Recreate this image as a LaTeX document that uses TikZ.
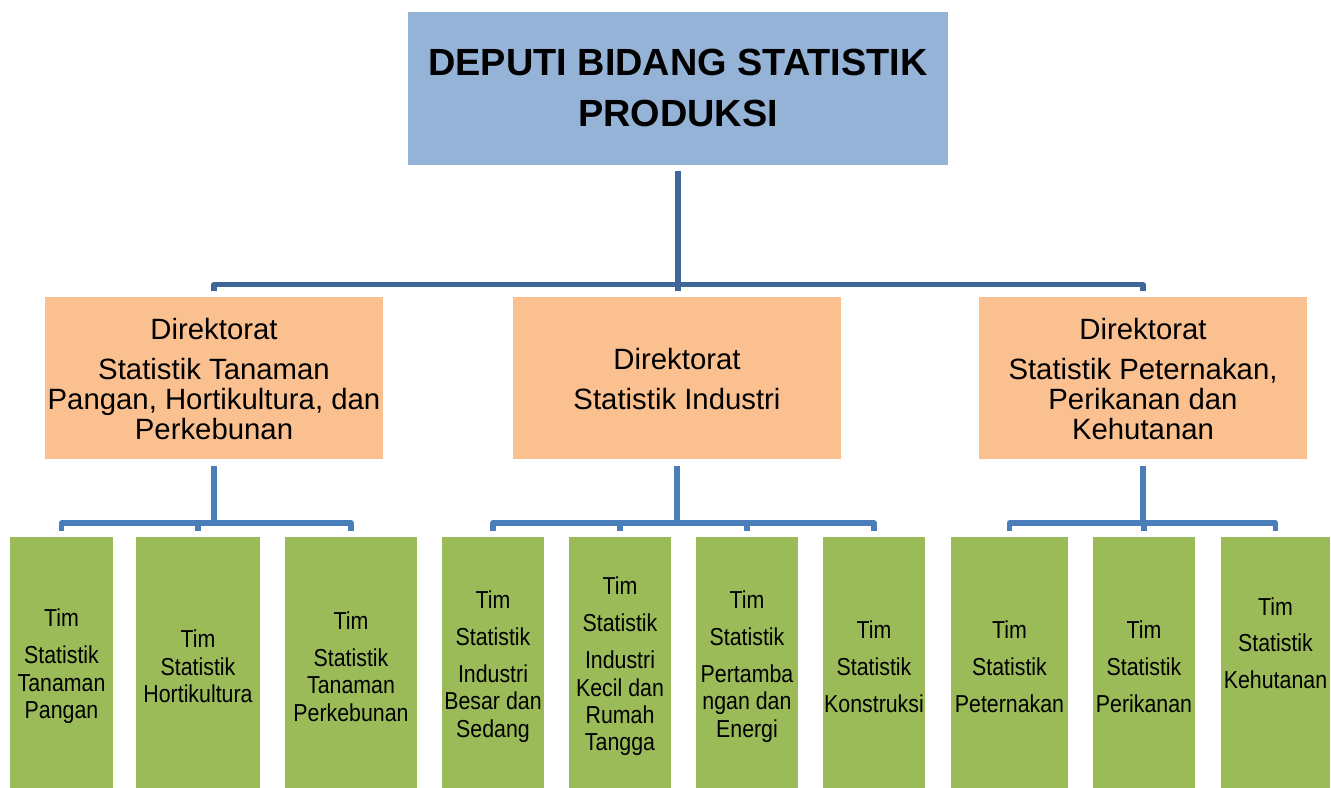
\documentclass[tikz,border=0pt]{standalone}
\usepackage{fontspec}
\setmainfont{Liberation Sans}
\newfontfamily\narrowfont[FakeStretch=0.87]{Liberation Sans}
\usetikzlibrary{fit}
\definecolor{topblue}{HTML}{95B3D7}
\definecolor{dirorange}{HTML}{FAC090}
\definecolor{timgreen}{HTML}{9BBB59}
\definecolor{conA}{HTML}{3E6797}
\definecolor{conB}{HTML}{4A7EBB}
\begin{document}
\begin{tikzpicture}[x=0.75pt,y=-0.75pt,
  box/.style={inner sep=0pt, outer sep=0pt},
  topbox/.style={box, fill=topblue},
  dirbox/.style={box, fill=dirorange},
  timbox/.style={box, fill=timgreen},
  toptext/.style={inner sep=0pt, align=center, yshift=0.75pt, font=\fontsize{28.4pt}{38.25pt}\selectfont\bfseries},
  dirtext/.style={inner sep=0pt, align=center, yshift=-0.4pt, font=\fontsize{22pt}{22.5pt}\selectfont},
  timtext/.style={inner sep=0pt, align=center, yshift=-3pt, font=\narrowfont\fontsize{18.4pt}{20.6pt}\selectfont},
  connA/.style={draw=conA, line width=4pt, line join=round},
  connB/.style={draw=conB, line width=4pt, line join=round},
]
\useasboundingbox (0,0) rectangle (1331,788);

% top
\node[topbox, fit={(408,12) (948,165)}] (top) {};
\node[toptext] (toptxt) at (top.center) {DEPUTI BIDANG STATISTIK\\PRODUKSI};

% directorates
\node[dirbox, fit={(45,297) (383,459)}] (o1) {};
\node[dirbox, fit={(513,297) (841,459)}] (o2) {};
\node[dirbox, fit={(979,297) (1307,459)}] (o3) {};
\node[dirtext] (d1) at (o1.center) {Direktorat\\[7.5pt]Statistik Tanaman\\Pangan, Hortikultura, dan\\Perkebunan};
\node[dirtext] (d2) at (o2.center) {Direktorat\\[7.5pt]Statistik Industri};
\node[dirtext] (d3) at (o3.center) {Direktorat\\[7.5pt]Statistik Peternakan,\\Perikanan dan\\Kehutanan};

% teams
\node[timbox, fit={(10,537) (113,788)}] (g1) {};
\node[timbox, fit={(136,537) (260,788)}] (g2) {};
\node[timbox, fit={(285,537) (417,788)}] (g3) {};
\node[timbox, fit={(442,537) (544,788)}] (g4) {};
\node[timbox, fit={(569,537) (671,788)}] (g5) {};
\node[timbox, fit={(696,537) (798,788)}] (g6) {};
\node[timbox, fit={(823,537) (925,788)}] (g7) {};
\node[timbox, fit={(951,537) (1068,788)}] (g8) {};
\node[timbox, fit={(1093,537) (1195,788)}] (g9) {};
\node[timbox, fit={(1221,537) (1330,788)}] (g10) {};

\node[timtext] (t1) at (g1.center) {Tim\\[7.1pt]Statistik\\Tanaman\\Pangan};
\node[timtext] (t2) at (g2.center) {Tim\\Statistik\\Hortikultura};
\node[timtext] (t3) at (g3.center) {Tim\\[7.1pt]Statistik\\Tanaman\\Perkebunan};
\node[timtext] (t4) at (g4.center) {Tim\\[7.1pt]Statistik\\[7.1pt]Industri\\Besar dan\\Sedang};
\node[timtext] (t5) at (g5.center) {Tim\\[7.1pt]Statistik\\[7.1pt]Industri\\Kecil dan\\Rumah\\Tangga};
\node[timtext] (t6) at (g6.center) {Tim\\[7.1pt]Statistik\\[7.1pt]Pertamba\\ngan dan\\Energi};
\node[timtext] (t7) at (g7.center) {Tim\\[7.1pt]Statistik\\[7.1pt]Konstruksi};
\node[timtext] (t8) at (g8.center) {Tim\\[7.1pt]Statistik\\[7.1pt]Peternakan};
\node[timtext] (t9) at (g9.center) {Tim\\[7.1pt]Statistik\\[7.1pt]Perikanan};
\node[timtext, yshift=17.5pt] (t10) at (g10.center) {Tim\\[7.1pt]Statistik\\[7.1pt]Kehutanan};

% connectors level 1
\coordinate (busA) at (678,284.5);
\draw[connA] ([yshift=-4.5pt]top.south) -- ([yshift=4.5pt]top.south |- o2.north);
\draw[connA] ([yshift=4.5pt]o1.north) |- (busA) -| ([yshift=4.5pt]o3.north);

% connectors level 2
\coordinate (busL) at (214,523);
\coordinate (busM) at (677,523);
\coordinate (busR) at (1143,523);
\draw[connB] ([yshift=-5.25pt]o1.south) -- (o1.south |- busL);
\draw[connB] ([yshift=4.5pt]g1.north) |- (busL) -| ([yshift=4.5pt]g3.north);
\draw[connB] (busL -| g2.north) -- ([yshift=4.5pt]g2.north);

\draw[connB] ([yshift=-5.25pt]o2.south) -- (o2.south |- busM);
\draw[connB] ([yshift=4.5pt]g4.north) |- (busM) -| ([yshift=4.5pt]g7.north);
\draw[connB] (busM -| g5.north) -- ([yshift=4.5pt]g5.north);
\draw[connB] (busM -| g6.north) -- ([yshift=4.5pt]g6.north);

\draw[connB] ([yshift=-5.25pt]o3.south) -- (o3.south |- busR);
\draw[connB] ([yshift=4.5pt]g8.north) |- (busR) -| ([yshift=4.5pt]g10.north);
\draw[connB] (busR -| g9.north) -- ([yshift=4.5pt]g9.north);
\end{tikzpicture}
\end{document}
